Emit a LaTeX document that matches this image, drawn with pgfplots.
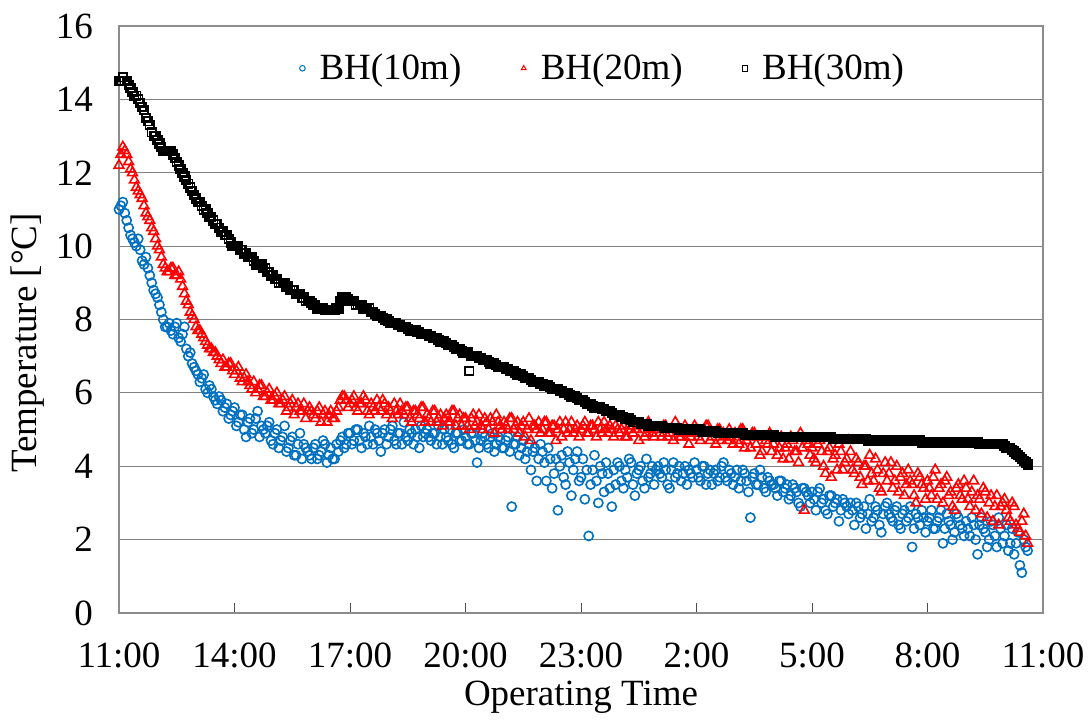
\documentclass[border=0pt]{standalone}
\usepackage{pgfplots}
\usepackage{pgfplotstable}
\pgfplotsset{compat=1.18}
\usepackage{fontspec}
\setmainfont{Liberation Serif}
\definecolor{bhblue}{RGB}{0,112,192}
\definecolor{bhred}{RGB}{255,0,0}
\definecolor{gridgray}{RGB}{128,128,128}
\definecolor{framegray}{RGB}{140,140,140}

% BH(10m): samples every 0.1 h from 11:00 (a) and offset by 0.05 h (b)
\pgfplotstableread[row sep=\\]{
y\\
11.0\\11.2\\10.7\\10.3\\10.1\\10.2\\9.6\\9.7\\9.2\\8.8\\
8.6\\8.2\\7.8\\7.9\\7.6\\7.9\\7.4\\7.8\\7.0\\6.8\\
6.6\\6.3\\6.5\\6.0\\6.1\\5.8\\5.9\\5.5\\5.7\\5.4\\
5.6\\5.2\\5.4\\4.8\\5.3\\5.0\\5.5\\5.1\\4.9\\5.2\\
4.6\\5.0\\4.7\\5.1\\4.5\\4.8\\4.3\\4.9\\4.6\\4.4\\
4.2\\4.6\\4.3\\4.7\\4.1\\4.5\\4.2\\4.4\\4.8\\4.6\\
4.9\\4.7\\5.0\\4.5\\4.8\\5.1\\4.6\\4.9\\4.4\\5.0\\
4.8\\5.1\\4.6\\4.9\\5.2\\4.7\\4.9\\5.0\\4.5\\4.8\\
5.0\\4.7\\4.9\\5.1\\4.6\\4.8\\5.0\\4.5\\4.9\\4.7\\
4.8\\4.6\\4.9\\4.1\\4.7\\4.8\\4.5\\4.9\\4.6\\4.7\\
4.5\\4.8\\2.9\\4.6\\4.3\\4.7\\4.4\\3.9\\4.5\\4.2\\
4.4\\3.6\\4.2\\3.8\\2.8\\4.3\\3.5\\4.1\\3.9\\4.4\\
3.7\\3.1\\2.1\\3.9\\3.6\\4.0\\3.3\\3.8\\2.9\\3.5\\
4.0\\3.4\\3.7\\4.1\\3.2\\3.9\\3.6\\4.2\\3.8\\3.5\\
4.0\\3.7\\3.9\\3.4\\4.1\\3.8\\3.6\\4.0\\3.9\\3.7\\
3.9\\3.6\\4.0\\3.8\\3.5\\3.9\\3.7\\4.1\\3.6\\3.8\\
3.7\\3.4\\3.9\\3.6\\2.6\\3.8\\3.5\\3.7\\3.3\\3.6\\
3.5\\3.2\\3.6\\3.4\\3.1\\3.5\\3.3\\2.9\\3.4\\3.2\\
3.3\\2.8\\3.4\\3.1\\2.7\\3.2\\3.0\\2.5\\3.1\\2.9\\
3.0\\2.4\\2.9\\2.7\\2.3\\3.1\\2.6\\2.8\\2.2\\2.9\\
2.7\\2.5\\2.9\\2.3\\2.8\\2.6\\1.8\\2.7\\2.4\\2.6\\
2.5\\2.8\\2.3\\2.6\\1.9\\2.7\\2.4\\2.2\\2.6\\2.3\\
2.5\\2.1\\2.4\\1.6\\2.6\\2.2\\2.0\\2.4\\1.8\\2.3\\
2.1\\1.7\\2.3\\1.9\\1.3\\2.0\\1.7\\
}\tenmA
\pgfplotstableread[row sep=\\]{
y\\
11.1\\10.9\\10.5\\10.2\\10.0\\9.9\\9.5\\9.4\\9.0\\8.7\\
8.4\\8.0\\7.8\\7.7\\7.8\\7.5\\7.6\\7.2\\7.1\\6.7\\
6.5\\6.4\\6.1\\6.2\\5.9\\5.7\\5.8\\5.6\\5.3\\5.5\\
5.1\\5.4\\5.0\\5.2\\4.9\\5.3\\4.8\\5.0\\5.1\\4.7\\
4.9\\4.5\\4.8\\4.4\\4.7\\4.3\\4.6\\4.2\\4.5\\4.3\\
4.5\\4.2\\4.4\\4.6\\4.3\\4.2\\4.6\\4.7\\4.5\\4.9\\
4.6\\5.0\\4.7\\4.9\\4.6\\4.8\\5.0\\4.7\\4.9\\4.6\\
5.0\\4.7\\4.9\\4.6\\4.8\\5.0\\4.6\\4.8\\5.1\\4.9\\
4.8\\4.9\\4.6\\4.8\\5.0\\4.7\\4.6\\4.9\\4.7\\5.0\\
4.6\\4.9\\4.7\\4.5\\4.9\\4.6\\4.8\\4.4\\4.8\\4.5\\
4.7\\4.4\\4.6\\4.8\\4.5\\4.2\\4.6\\4.4\\3.6\\4.6\\
4.1\\4.5\\3.4\\4.2\\4.0\\3.7\\4.4\\3.2\\4.2\\3.6\\
4.2\\3.9\\3.5\\4.3\\3.0\\3.8\\4.1\\3.4\\3.9\\4.1\\
3.6\\3.9\\4.2\\3.5\\3.8\\4.0\\3.4\\3.7\\4.0\\3.9\\
3.8\\4.1\\3.5\\3.9\\3.7\\4.0\\3.8\\3.5\\3.8\\4.1\\
3.7\\4.0\\3.5\\3.9\\3.8\\3.6\\4.0\\3.7\\3.9\\3.5\\
3.9\\3.6\\3.8\\3.3\\3.7\\3.5\\3.9\\3.4\\3.7\\3.5\\
3.4\\3.6\\3.3\\3.5\\3.2\\3.4\\3.0\\3.4\\3.3\\3.0\\
3.1\\3.3\\3.0\\2.8\\3.2\\2.9\\3.1\\2.8\\3.0\\2.7\\
2.8\\3.0\\2.6\\2.9\\2.7\\2.5\\2.9\\2.4\\2.7\\3.0\\
2.6\\2.8\\2.4\\2.7\\2.5\\2.9\\2.3\\2.6\\2.8\\2.2\\
2.6\\2.3\\2.5\\2.8\\2.3\\2.5\\2.0\\2.7\\2.4\\2.1\\
2.3\\2.6\\2.0\\2.4\\2.3\\1.8\\2.5\\2.1\\2.6\\1.9\\
2.4\\1.9\\1.6\\2.2\\1.1\\1.8\\
}\tenmB

% BH(20m)
\pgfplotstableread[row sep=\\]{
y\\
12.2\\12.7\\12.5\\12.1\\11.8\\11.5\\11.3\\10.9\\10.7\\10.4\\
10.0\\9.7\\9.4\\9.3\\9.4\\9.2\\9.1\\8.7\\8.4\\8.1\\
7.8\\7.7\\7.5\\7.3\\7.2\\7.1\\6.9\\6.9\\6.7\\6.8\\
6.5\\6.7\\6.3\\6.5\\6.2\\6.3\\6.1\\6.2\\5.9\\6.1\\
5.8\\6.0\\5.7\\5.9\\5.6\\5.8\\5.6\\5.5\\5.7\\5.5\\
5.5\\5.3\\5.6\\5.4\\5.2\\5.5\\5.3\\5.6\\5.9\\5.8\\
5.7\\5.9\\5.5\\5.7\\5.8\\5.4\\5.6\\5.8\\5.5\\5.7\\
5.6\\5.3\\5.5\\5.7\\5.4\\5.6\\5.2\\5.5\\5.3\\5.6\\
5.4\\5.2\\5.5\\5.3\\5.1\\5.4\\5.2\\5.5\\5.3\\5.1\\
5.3\\5.0\\5.4\\5.2\\5.1\\5.3\\5.0\\5.2\\5.4\\5.1\\
5.2\\5.0\\5.3\\5.1\\4.9\\5.2\\5.0\\4.7\\5.1\\5.2\\
5.0\\5.2\\4.9\\5.1\\5.0\\4.8\\5.2\\5.0\\4.9\\5.1\\
5.0\\5.2\\4.9\\5.1\\4.8\\5.0\\5.2\\4.9\\5.0\\5.1\\
4.9\\5.1\\4.8\\5.0\\5.2\\4.7\\5.0\\4.9\\5.1\\4.8\\
5.0\\4.8\\5.1\\4.9\\4.7\\5.0\\4.8\\5.1\\4.6\\4.9\\
5.0\\4.7\\4.9\\5.1\\4.8\\4.6\\5.0\\4.9\\4.7\\4.8\\
4.9\\4.6\\5.0\\4.7\\4.5\\4.9\\4.8\\4.4\\4.7\\4.9\\
4.6\\4.3\\4.8\\4.5\\4.2\\4.7\\4.4\\4.9\\2.8\\4.6\\
4.5\\4.1\\4.7\\4.0\\4.4\\3.7\\4.3\\4.6\\3.9\\4.2\\
4.4\\3.8\\4.1\\3.5\\4.0\\4.3\\3.6\\3.9\\3.3\\4.1\\
3.8\\3.4\\4.0\\3.7\\3.2\\3.9\\3.5\\3.0\\3.7\\3.4\\
3.6\\3.2\\3.9\\3.4\\3.0\\3.7\\3.3\\2.8\\3.5\\3.1\\
3.4\\2.9\\3.6\\3.2\\2.7\\3.3\\3.0\\2.5\\3.2\\2.9\\
3.1\\2.6\\3.0\\2.4\\2.2\\2.7\\1.9\\
}\twentymA
\pgfplotstableread[row sep=\\]{
y\\
12.5\\12.6\\12.3\\12.0\\11.6\\11.4\\11.1\\10.8\\10.5\\10.2\\
9.9\\9.5\\9.3\\9.4\\9.2\\9.3\\8.9\\8.5\\8.2\\8.0\\
7.7\\7.6\\7.4\\7.2\\7.1\\7.0\\6.8\\6.7\\6.8\\6.6\\
6.6\\6.4\\6.4\\6.3\\6.1\\6.0\\6.2\\5.9\\6.0\\5.8\\
5.9\\5.7\\5.8\\5.5\\5.7\\5.4\\5.7\\5.5\\5.3\\5.6\\
5.4\\5.5\\5.2\\5.5\\5.4\\5.3\\5.5\\5.8\\5.9\\5.6\\
5.8\\5.6\\5.7\\5.9\\5.5\\5.7\\5.5\\5.6\\5.8\\5.4\\
5.5\\5.7\\5.4\\5.5\\5.6\\5.3\\5.5\\5.4\\5.6\\5.2\\
5.3\\5.5\\5.2\\5.4\\5.3\\5.2\\5.5\\5.1\\5.4\\5.3\\
5.1\\5.3\\5.1\\5.4\\5.0\\5.2\\5.3\\4.9\\5.2\\5.0\\
5.1\\5.3\\5.0\\5.2\\5.1\\4.8\\5.3\\5.1\\5.0\\4.9\\
5.2\\4.9\\5.1\\4.7\\5.2\\5.0\\4.9\\5.2\\5.0\\4.8\\
5.1\\4.9\\5.1\\5.0\\5.2\\4.9\\5.0\\5.1\\4.8\\5.0\\
5.0\\4.8\\5.1\\4.9\\5.0\\5.1\\4.8\\5.2\\4.9\\5.0\\
4.9\\5.1\\4.8\\5.0\\5.2\\4.8\\4.9\\5.0\\4.8\\5.1\\
4.8\\4.9\\5.1\\4.7\\4.9\\5.0\\4.7\\4.8\\5.0\\4.6\\
4.7\\5.0\\4.5\\4.8\\4.9\\4.6\\4.3\\4.8\\4.6\\4.4\\
4.8\\4.5\\4.2\\4.6\\4.8\\4.4\\4.1\\4.5\\4.7\\4.3\\
4.2\\4.6\\4.4\\3.8\\4.5\\4.2\\3.9\\4.4\\4.1\\4.7\\
3.9\\4.2\\3.7\\4.0\\3.6\\3.8\\4.2\\3.4\\3.8\\3.6\\
4.1\\3.6\\3.3\\3.8\\3.5\\3.6\\3.2\\3.8\\3.5\\3.1\\
3.4\\3.7\\3.1\\3.5\\3.6\\3.2\\2.9\\3.4\\3.2\\3.6\\
3.1\\3.3\\2.8\\3.1\\3.4\\2.6\\3.2\\2.9\\2.4\\3.0\\
2.8\\2.5\\2.9\\2.3\\2.5\\2.1\\
}\twentymB

% BH(30m)
\pgfplotstableread[row sep=\\]{
y\\
14.5\\14.6\\14.5\\14.3\\14.1\\14.0\\13.8\\13.5\\13.3\\13.0\\
12.9\\12.7\\12.6\\12.6\\12.5\\12.3\\12.1\\11.9\\11.7\\11.5\\
11.3\\11.2\\11.0\\10.9\\10.8\\10.6\\10.5\\10.4\\10.3\\10.1\\
10.0\\10.0\\9.9\\9.8\\9.7\\9.6\\9.5\\9.5\\9.4\\9.3\\
9.2\\9.1\\9.0\\9.0\\8.9\\8.8\\8.7\\8.7\\8.6\\8.5\\
8.45\\8.4\\8.3\\8.3\\8.25\\8.25\\8.25\\8.3\\8.6\\8.6\\
8.5\\8.5\\8.4\\8.4\\8.3\\8.3\\8.2\\8.1\\8.1\\8.0\\
7.95\\7.9\\7.9\\7.85\\7.8\\7.75\\7.7\\7.7\\7.65\\7.6\\
7.6\\7.55\\7.5\\7.45\\7.4\\7.35\\7.3\\7.25\\7.2\\7.15\\
7.1\\6.6\\7.0\\7.0\\6.95\\6.9\\6.85\\6.8\\6.75\\6.7\\
6.7\\6.65\\6.6\\6.55\\6.5\\6.45\\6.4\\6.35\\6.3\\6.3\\
6.25\\6.2\\6.15\\6.1\\6.1\\6.05\\6.0\\5.95\\5.9\\5.85\\
5.8\\5.75\\5.7\\5.65\\5.6\\5.6\\5.55\\5.5\\5.45\\5.4\\
5.4\\5.35\\5.3\\5.25\\5.2\\5.2\\5.15\\5.15\\5.1\\5.1\\
5.1\\5.1\\5.05\\5.05\\5.05\\5.05\\5.0\\5.0\\5.0\\5.0\\
5.0\\5.0\\4.95\\4.95\\4.95\\4.95\\4.9\\4.9\\4.9\\4.9\\
4.9\\4.9\\4.9\\4.85\\4.85\\4.85\\4.85\\4.85\\4.85\\4.85\\
4.85\\4.8\\4.8\\4.8\\4.8\\4.8\\4.8\\4.8\\4.8\\4.8\\
4.8\\4.8\\4.8\\4.8\\4.8\\4.8\\4.75\\4.75\\4.75\\4.75\\
4.75\\4.75\\4.75\\4.75\\4.75\\4.7\\4.7\\4.7\\4.7\\4.7\\
4.7\\4.7\\4.7\\4.7\\4.7\\4.7\\4.7\\4.7\\4.7\\4.65\\
4.65\\4.65\\4.65\\4.65\\4.65\\4.65\\4.65\\4.65\\4.65\\4.65\\
4.65\\4.65\\4.65\\4.65\\4.6\\4.6\\4.6\\4.6\\4.6\\4.6\\
4.55\\4.5\\4.45\\4.35\\4.25\\4.15\\4.05\\
}\thirtymA
\pgfplotstableread[row sep=\\]{
y\\
14.5\\14.5\\14.4\\14.2\\14.1\\13.9\\13.7\\13.4\\13.1\\13.0\\
12.8\\12.6\\12.6\\12.6\\12.4\\12.2\\12.0\\11.8\\11.6\\11.4\\
11.2\\11.1\\11.0\\10.8\\10.7\\10.6\\10.4\\10.3\\10.2\\10.0\\
10.0\\9.9\\9.8\\9.7\\9.7\\9.5\\9.5\\9.4\\9.3\\9.2\\
9.1\\9.0\\9.0\\8.9\\8.8\\8.8\\8.7\\8.6\\8.5\\8.5\\
8.4\\8.3\\8.3\\8.25\\8.25\\8.25\\8.3\\8.5\\8.6\\8.55\\
8.5\\8.4\\8.4\\8.3\\8.3\\8.2\\8.15\\8.1\\8.05\\8.0\\
7.9\\7.9\\7.85\\7.8\\7.8\\7.7\\7.7\\7.65\\7.6\\7.6\\
7.55\\7.5\\7.5\\7.4\\7.4\\7.3\\7.3\\7.2\\7.2\\7.1\\
7.1\\7.0\\7.0\\6.95\\6.9\\6.9\\6.8\\6.8\\6.7\\6.7\\
6.65\\6.6\\6.6\\6.5\\6.5\\6.4\\6.4\\6.3\\6.3\\6.25\\
6.2\\6.2\\6.1\\6.1\\6.05\\6.0\\6.0\\5.9\\5.9\\5.8\\
5.8\\5.7\\5.7\\5.6\\5.6\\5.55\\5.5\\5.5\\5.4\\5.4\\
5.35\\5.3\\5.3\\5.2\\5.2\\5.15\\5.15\\5.1\\5.1\\5.1\\
5.1\\5.05\\5.05\\5.05\\5.05\\5.0\\5.0\\5.0\\5.0\\5.0\\
5.0\\4.95\\4.95\\4.95\\4.95\\4.9\\4.9\\4.9\\4.9\\4.9\\
4.9\\4.9\\4.85\\4.85\\4.85\\4.85\\4.85\\4.85\\4.85\\4.85\\
4.8\\4.8\\4.8\\4.8\\4.8\\4.8\\4.8\\4.8\\4.8\\4.8\\
4.8\\4.8\\4.8\\4.8\\4.8\\4.75\\4.75\\4.75\\4.75\\4.75\\
4.75\\4.75\\4.75\\4.75\\4.7\\4.7\\4.7\\4.7\\4.7\\4.7\\
4.7\\4.7\\4.7\\4.7\\4.7\\4.7\\4.7\\4.7\\4.65\\4.65\\
4.65\\4.65\\4.65\\4.65\\4.65\\4.65\\4.65\\4.65\\4.65\\4.65\\
4.65\\4.65\\4.65\\4.6\\4.6\\4.6\\4.6\\4.6\\4.6\\4.6\\
4.5\\4.5\\4.4\\4.3\\4.2\\4.1\\
}\thirtymB

\begin{document}
\begin{tikzpicture}
\path[use as bounding box] (-59.5pt,-53pt) rectangle (486.5pt,306.5pt);
\begin{axis}[
  at={(0pt,0pt)}, anchor=south west,
  scale only axis,
  width=462pt, height=293.5pt,
  xmin=0, xmax=24, ymin=0, ymax=16,
  xtick={0,3,6,9,12,15,18,21,24},
  xticklabels={11:00,14:00,17:00,20:00,23:00,2:00,5:00,8:00,11:00},
  ytick={0,2,4,6,8,10,12,14,16},
  /pgf/number format/assume math mode=true,
  tick align=inside,
  xtick pos=left,
  major tick length=5pt,
  xtick style={draw=black!70, line width=0.5pt},
  ytick style={draw=none},
  ymajorgrids,
  grid style={draw=gridgray, line width=0.6pt},
  axis line style={draw=framegray, line width=0.8pt},
  tick label style={font=\fontsize{18.5}{21}\selectfont},
  label style={font=\fontsize{18.5}{21}\selectfont},
  xticklabel style={anchor=center, yshift=-21pt},
  yticklabel style={anchor=east, xshift=-9.5pt},
  xlabel={Operating Time},
  ylabel={Temperature [°C]},
  xlabel style={at={(axis description cs:0.5,0)}, anchor=center, yshift=-42pt},
  ylabel style={at={(axis description cs:0,0.46)}, anchor=center, yshift=45.5pt},
  legend columns=3,
  legend style={at={(axis description cs:0.52,0.928)}, anchor=center,
    draw=none, fill=white, font=\fontsize{18.5}{21}\selectfont,
    /tikz/every even column/.append style={column sep=23.5pt}},
  legend image code/.code={\draw[#1] plot coordinates {(0.2cm,0cm)};
    \path[draw=none, fill=none] (0cm,0cm) rectangle (0.43cm,0.01cm);},
  legend image post style={mark size=1.4pt, line width=0.5pt},
]
\addplot[only marks, mark=o, mark size=2.3pt, draw=bhblue, line width=0.8pt]
  table[x expr=\coordindex/10, y=y] {\tenmA};
\addlegendentry{BH(10m)}
\addplot[only marks, mark=o, mark size=2.3pt, draw=bhblue, line width=0.8pt, forget plot]
  table[x expr=\coordindex/10+0.05, y=y] {\tenmB};
\addplot[only marks, mark=triangle, mark size=2.8pt, draw=bhred, line width=0.8pt]
  table[x expr=\coordindex/10, y=y] {\twentymA};
\addlegendentry{BH(20m)}
\addplot[only marks, mark=triangle, mark size=2.8pt, draw=bhred, line width=0.8pt, forget plot]
  table[x expr=\coordindex/10+0.05, y=y] {\twentymB};
\addplot[only marks, mark=square, mark size=2.1pt, draw=black, line width=0.9pt]
  table[x expr=\coordindex/10, y=y] {\thirtymA};
\addlegendentry{BH(30m)}
\addplot[only marks, mark=square, mark size=2.1pt, draw=black, line width=0.9pt, forget plot]
  table[x expr=\coordindex/10+0.05, y=y] {\thirtymB};
\end{axis}
\end{tikzpicture}
\end{document}
